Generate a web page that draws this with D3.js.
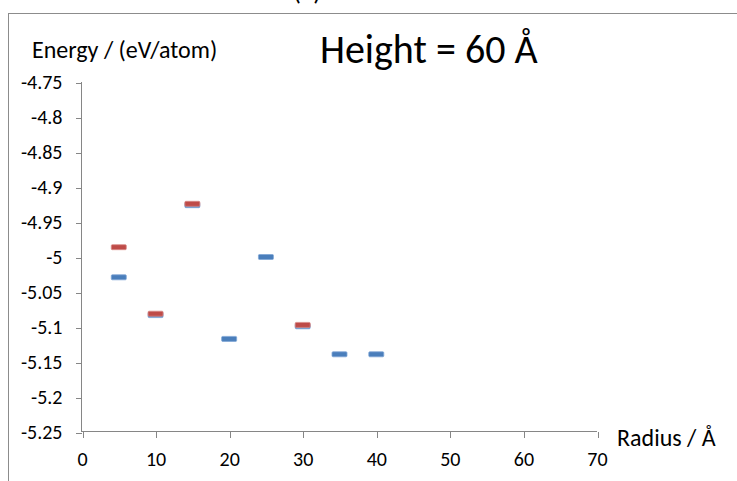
<!DOCTYPE html>
<html>
<head>
<meta charset="utf-8">
<script src="https://cdn.jsdelivr.net/npm/d3@7"></script>
<style>
  body { margin: 0; background: #fff; }
  svg { display: block; }
  text { font-family: Carlito, Calibri, "Open Sans", sans-serif; fill: #000; }
  .axis path, .axis line { stroke: #868686; shape-rendering: crispEdges; }
</style>
</head>
<body>
<svg id="chart" width="737" height="481"></svg>
<script>
// Radius (Å) and energy (eV/atom)
const blueRadius = [5, 10, 15, 20, 25, 30, 35, 40];
const blueEnergy = [-5.029, -5.083, -4.926, -5.117, -5.0, -5.099, -5.139, -5.139];
const redRadius = [5, 10, 15, 30];
const redEnergy = [-4.986, -5.081, -4.924, -5.097];

const xTicks = [0, 10, 20, 30, 40, 50, 60, 70];
const yTicks = [-4.75, -4.8, -4.85, -4.9, -4.95, -5, -5.05, -5.1, -5.15, -5.2, -5.25];

const svg = d3.select('#chart');

// outer frame (runs off the right and bottom of the picture)
svg.append('rect')
    .attr('x', 8.5).attr('y', 13.5)
    .attr('width', 800).attr('height', 600)
    .attr('fill', 'none')
    .attr('stroke', '#8c8c8c');

// caption, mostly cut off by the top edge just like the source
svg.append('text')
    .attr('x', 307).attr('y', 0)
    .attr('text-anchor', 'middle')
    .style('font-size', '26px')
    .text('(a)');

const x = d3.scaleLinear().domain([0, 70]).range([82, 597]);
const y = d3.scaleLinear().domain([-4.75, -5.25]).range([82, 432]);

// y axis
const yAxis = svg.append('g')
    .attr('class', 'axis')
    .attr('transform', `translate(${x(0) - 0.5},0)`)
    .call(d3.axisLeft(y).tickValues(yTicks).tickSize(6).tickPadding(13)
        .tickFormat(d => String(d)));
yAxis.selectAll('.tick line').attr('transform', 'translate(0,0.5)');
yAxis.selectAll('text').style('font-size', '20px');

// x axis
const xAxis = svg.append('g')
    .attr('class', 'axis')
    .attr('transform', `translate(0,${y(-5.25) - 0.5})`)
    .call(d3.axisBottom(x).tickValues(xTicks).tickSize(6).tickPadding(14));
xAxis.selectAll('.tick line').attr('transform', 'translate(0.5,0)');
xAxis.selectAll('text').style('font-size', '20px');
svg.selectAll('.axis .domain').attr('d', null);
yAxis.append('line')
    .attr('x1', 0).attr('x2', 0)
    .attr('y1', y(-4.75)).attr('y2', y(-5.25));
xAxis.append('line')
    .attr('x1', x(0)).attr('x2', x(70))
    .attr('y1', 0).attr('y2', 0);

// titles
svg.append('text')
    .attr('x', 32).attr('y', 58)
    .style('font-size', '24px')
    .text('Energy / (eV/atom)');

svg.append('text')
    .attr('x', 320).attr('y', 63)
    .style('font-size', '40px')
    .text('Height = 60 Å');

svg.append('text')
    .attr('x', 617).attr('y', 446)
    .style('font-size', '24px')
    .text('Radius / Å');

// dash markers: blue first, red drawn over it
function drawDashes(xs, ys, color, edge) {
    svg.append('g')
        .selectAll('rect')
        .data(xs.map((r, i) => ({ r: r, e: ys[i] })))
        .join('rect')
        .attr('x', d => x(d.r) - 7.5)
        .attr('y', d => y(d.e) - 2.5)
        .attr('width', 15)
        .attr('height', 5)
        .attr('rx', 1)
        .attr('fill', color)
        .attr('stroke', edge)
        .attr('stroke-width', 0.8);
}

drawDashes(blueRadius, blueEnergy, '#4a7ebb', '#7fa6d6');
drawDashes(redRadius, redEnergy, '#be4b48', '#d98a88');
</script>
</body>
</html>
